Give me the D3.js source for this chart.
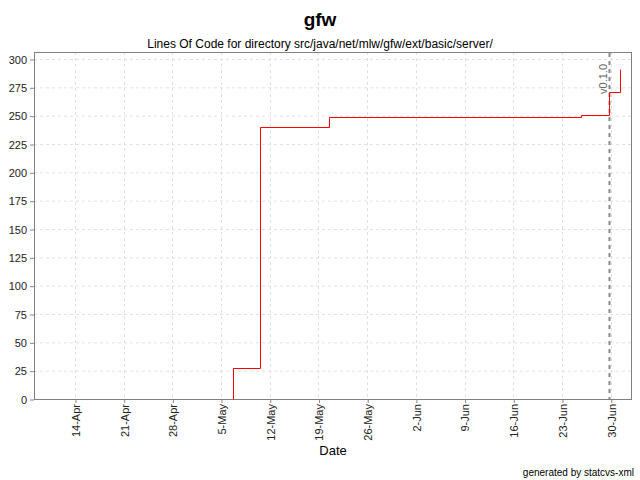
<!DOCTYPE html>
<html><head><meta charset="utf-8">
<script src="https://cdn.jsdelivr.net/npm/d3@7"></script>
<style>body{margin:0;background:#fff}svg{display:block;font-family:"Liberation Sans",Arial,sans-serif}</style>
</head><body><svg id="c" width="640" height="480"></svg>
<script>
const dates = ["2003-05-06T18:00","2003-05-06T18:00","2003-05-10T15:00","2003-05-20T13:00","2003-06-25T16:30","2003-06-29T17:00","2003-07-01T09:00"];
const loc = [0,27,240,249,251,271,291];
const yTicks = [0,25,50,75,100,125,150,175,200,225,250,275,300];
const xTickDates = ["2003-04-14","2003-04-21","2003-04-28","2003-05-05","2003-05-12","2003-05-19","2003-05-26","2003-06-02","2003-06-09","2003-06-16","2003-06-23","2003-06-30"];
const markerDates = ["2003-06-29T17:00"];
const markerLabels = ["v0.1.0"];

const parse = d3.isoParse;
const svg = d3.select("#c");
const L=34,R=632,T=52,B=399;
const x = d3.scaleTime().domain([parse("2003-04-08T02:40"), parse("2003-07-03T01:30")]).range([L,R]);
const y = d3.scaleLinear().domain([0,300]).range([B,59]);
const fmt = d3.timeFormat("%-d-%b");

// title
svg.append("text").attr("x",320).attr("y",26).attr("text-anchor","middle").attr("font-size",19).attr("font-weight","bold").text("gfw");
svg.append("text").attr("x",320).attr("y",48).attr("text-anchor","middle").attr("font-size",12).text("Lines Of Code for directory src/java/net/mlw/gfw/ext/basic/server/");

// grid
const g = svg.append("g");
g.selectAll(".gy").data(yTicks).join("line").attr("x1",L).attr("x2",R).attr("y1",d=>y(d)+0.5).attr("y2",d=>y(d)+0.5)
 .attr("stroke","#e0e0e0").attr("stroke-dasharray","3,3");
g.selectAll(".gx").data(xTickDates).join("line").attr("y1",T).attr("y2",B).attr("x1",d=>Math.round(x(parse(d)))+0.5).attr("x2",d=>Math.round(x(parse(d)))+0.5)
 .attr("stroke","#e0e0e0").attr("stroke-dasharray","3,3");

// axes
const ya = d3.axisLeft(y).tickValues(yTicks).tickSize(4).tickPadding(3);
const yg = svg.append("g").attr("transform",`translate(${L},0.5)`).call(ya);
yg.select(".domain").remove();
yg.selectAll("line").attr("stroke","#888");
yg.selectAll("text").attr("font-size",11).attr("fill","#222").attr("font-family","'Liberation Sans',Arial,sans-serif");

const xa = d3.axisBottom(x).tickValues(xTickDates.map(parse)).tickFormat(fmt).tickSize(4).tickPadding(3);
const xg = svg.append("g").attr("transform",`translate(0.5,${B})`).call(xa);
xg.select(".domain").remove();
xg.selectAll("line").attr("stroke","#888");
xg.selectAll("text").attr("font-size",11).attr("fill","#222").attr("font-family","'Liberation Sans',Arial,sans-serif")
  .attr("text-anchor","end").attr("dy","0.35em").attr("transform","translate(0,0) rotate(-90)").attr("x",-5).attr("y",0);

// border
svg.append("rect").attr("x",L+0.5).attr("y",T+0.5).attr("width",R-L-1).attr("height",B-T).attr("fill","none").attr("stroke","#808080");

// markers
markerDates.forEach((d,i)=>{
  const mx = Math.round(x(parse(d)))+0.5;
  svg.append("line").attr("x1",mx).attr("x2",mx).attr("y1",T+1).attr("y2",B).attr("stroke","#888").attr("stroke-width",2).attr("stroke-dasharray","4,4");
  svg.append("text").attr("transform",`translate(${mx-3},64) rotate(-90)`).attr("text-anchor","end").attr("font-size",11).attr("fill","#666").text(markerLabels[i]);
});

// line
const pts = dates.map((d,i)=>[parse(d),loc[i]]);
const line = d3.line().x(d=>Math.round(x(d[0]))+0.5).y(d=>Math.round(y(d[1]))+0.5).curve(d3.curveStepAfter);
svg.append("path").datum(pts).attr("d",line).attr("fill","none").attr("stroke","#ff0000").attr("stroke-width",1);

// labels
svg.append("text").attr("x",(L+R)/2).attr("y",455).attr("text-anchor","middle").attr("font-size",13).text("Date");
svg.append("text").attr("x",634).attr("y",476).attr("text-anchor","end").attr("font-size",10).text("generated by statcvs-xml");
</script></body></html>
